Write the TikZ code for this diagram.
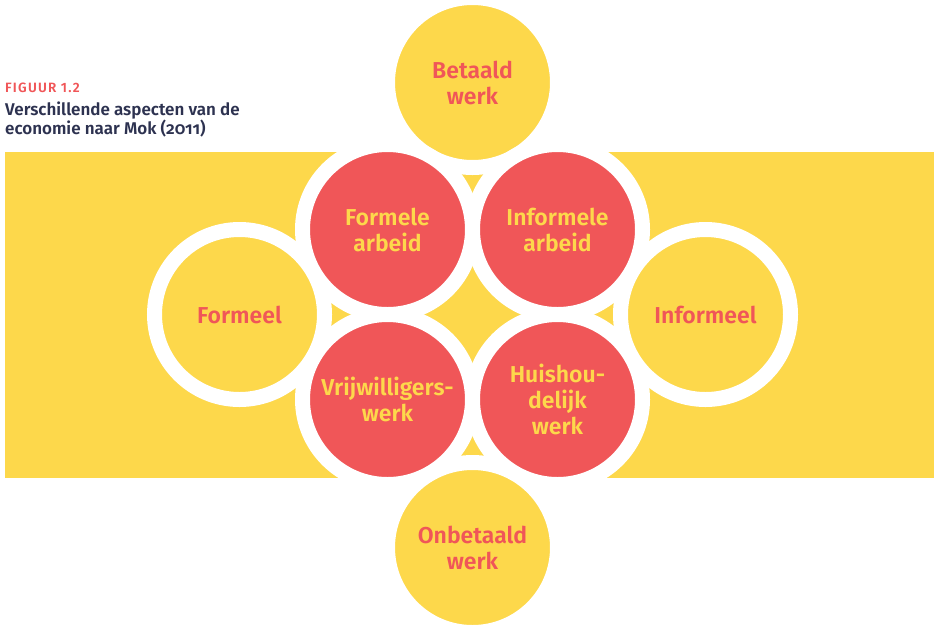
\documentclass[tikz,border=0pt]{standalone}
\usepackage{fontspec}
\setmainfont{Fira Sans}[BoldFont={Fira Sans SemiBold}]
\usetikzlibrary{positioning}
\definecolor{geel}{HTML}{FDD84B}
\definecolor{rood}{HTML}{F05658}
\definecolor{inkt}{HTML}{2D3250}
\tikzset{
    %Define style for the circles, white ring included
    bol/.style={
           circle,
           draw=white,
           line width=15pt,
           minimum size=170pt,
           inner sep=0pt,
           align=center,
           font=\fontsize{23}{26}\selectfont\bfseries},
    geelbol/.style={bol, fill=geel, text=rood},
    roodbol/.style={bol, fill=rood, text=geel},
    % Define style for the caption
    kop/.style={
           anchor=base west,
           inner sep=0pt,
           align=left}
}
\begin{document}
\begin{tikzpicture}[x=1pt, y=-1pt]
  \useasboundingbox (0,0) rectangle (934,625);
  \fill[geel] (5,152) rectangle (934,478);
  \node[kop, text=rood, font=\fontsize{13.5}{15}\selectfont\bfseries\addfontfeature{LetterSpace=9}] (figuur) at (5,92) {FIGUUR 1.2};
  \node[kop, text=inkt, font=\fontsize{17}{19}\selectfont\bfseries\addfontfeature{Numbers=OldStyle}] (titel) at (5,134) {Verschillende aspecten van de\\economie naar Mok (2011)};
  % outer circles
  \node[geelbol] (betaald) at (472.5,82.5) {Betaald\\werk};
  \node[geelbol] (onbetaald) at (472.5,547.5) {Onbetaald\\werk};
  \node[geelbol] (formeel) at (239.5,314.5) {Formeel};
  \node[geelbol] (informeel) at (705.5,314.5) {Informeel};
  % inner circles
  \node[roodbol] (formarb) at (387.5,229.5) {Formele\\arbeid};
  \node[roodbol] (informarb) at (557.5,229.5) {Informele\\arbeid};
  \node[roodbol] (vrijw) at (387.5,399.5) {Vrijwilligers-\\werk};
  \node[roodbol] (huish) at (557.5,399.5) {Huishou-\\delijk\\werk};
\end{tikzpicture}
\end{document}
